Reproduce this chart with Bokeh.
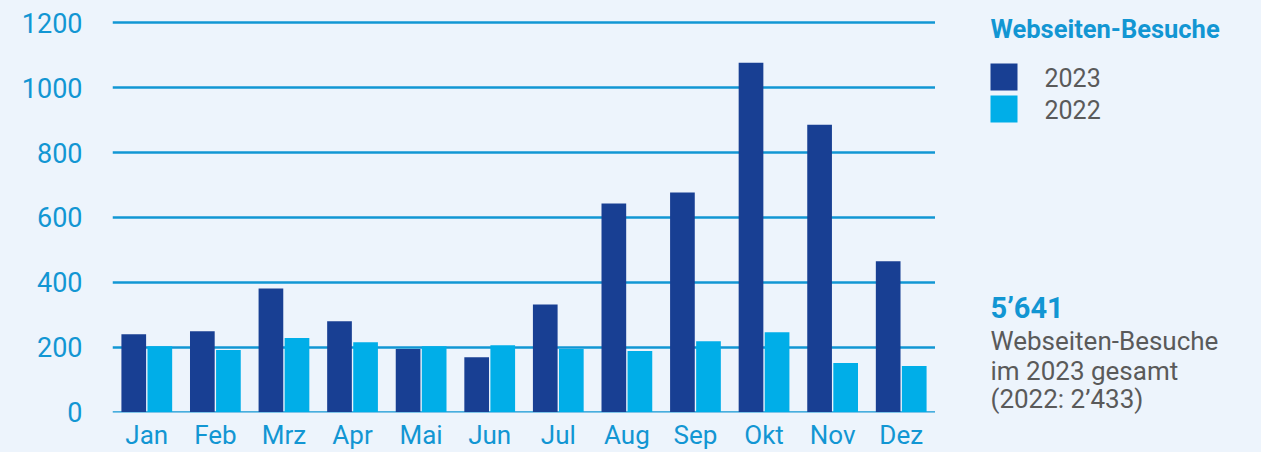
from bokeh.plotting import figure
from bokeh.layouts import row
from bokeh.models import FactorRange, Range1d, FixedTicker, ColumnDataSource
from bokeh.transform import dodge
from bokeh.core.properties import value
from bokeh.embed import file_html
from bokeh.resources import INLINE

months = ["Jan", "Feb", "Mrz", "Apr", "Mai", "Jun", "Jul", "Aug", "Sep", "Okt", "Nov", "Dez"]
v2023 = [240, 249, 381, 280, 194, 169, 332, 643, 677, 1077, 886, 465]
v2022 = [203, 191, 228, 215, 203, 206, 194, 188, 218, 246, 151, 142]
y_ticks = [0, 200, 400, 600, 800, 1000, 1200]
series_labels = ["2023", "2022"]
legend_title = "Webseiten-Besuche"
total_value = "5\u2019641"
total_lines = ["Webseiten-Besuche", "im 2023 gesamt", "(2022: 2\u2019433)"]

BG = "#EDF4FC"
DARK = "#183F93"
LIGHT = "#00AEE8"
BLUE = "#1296D3"
GRAY = "#5A5A5A"
FONT = "Roboto"

src = ColumnDataSource(dict(m=months, a=v2023, b=v2022))

p = figure(x_range=FactorRange(*months), y_range=Range1d(-1.5, 1238.5),
           width=935, height=452, output_backend="svg", toolbar_location=None,
           min_border_left=112, min_border_right=0, min_border_top=10, min_border_bottom=40)
p.frame_align = False
p.background_fill_color = BG
p.border_fill_color = BG
p.outline_line_color = None

p.vbar(x=dodge("m", -0.19, range=p.x_range), top="a", width=0.36, source=src,
       fill_color=DARK, line_color=None)
p.vbar(x=dodge("m", 0.19, range=p.x_range), top="b", width=0.36, source=src,
       fill_color=LIGHT, line_color=None)

p.xgrid.grid_line_color = None
p.ygrid.grid_line_color = BLUE
p.ygrid.grid_line_width = 2.5
p.ygrid.level = "underlay"
p.yaxis.ticker = FixedTicker(ticks=y_ticks)
for ax in (p.xaxis[0], p.yaxis[0]):
    ax.axis_line_color = None
    ax.major_tick_line_color = None
    ax.minor_tick_line_color = None
    ax.major_label_text_color = BLUE
    ax.major_label_text_font = FONT
    ax.major_label_text_font_size = "26px"
p.yaxis.major_label_text_font_size = "27px"
p.yaxis.major_label_standoff = 24
p.xaxis.major_label_standoff = 1

p2 = figure(x_range=Range1d(0, 326), y_range=Range1d(452, 0), width=326, height=452,
            output_backend="svg", toolbar_location=None, title=None,
            x_axis_location=None, y_axis_location=None,
            min_border=0, min_border_left=0, min_border_right=0, min_border_top=0, min_border_bottom=0)
p2.frame_align = False
p2.grid.visible = False
p2.background_fill_color = BG
p2.border_fill_color = BG
p2.outline_line_color = None

p2.text(x=[55], y=[28], text=[legend_title], text_font=value(FONT), text_font_style="bold",
        text_font_size="25.5px", text_color=BLUE, text_baseline="alphabetic")
p2.quad(left=[55, 55], right=[82, 82], top=[63, 95], bottom=[90, 122],
        fill_color=[DARK, LIGHT], line_color=None)
p2.text(x=[109, 109], y=[77, 108.5], text=series_labels, text_font=value(FONT),
        text_font_size="25px", text_color=GRAY, text_baseline="alphabetic")
p2.text(x=[55], y=[307], text=[total_value], text_font=value(FONT), text_font_style="bold",
        text_font_size="29px", text_color=BLUE, text_baseline="alphabetic")
p2.text(x=[55, 55, 55], y=[340, 370, 398], text=total_lines, text_font=value(FONT),
        text_font_size="26px", text_color=GRAY, text_baseline="alphabetic")

layout = row(p, p2, spacing=0)
html = file_html(layout, INLINE)
html = html.replace("<head>", "<head><style>html,body{background:%s;margin:0;}</style>" % BG, 1)
open("out.html", "w").write(html)
